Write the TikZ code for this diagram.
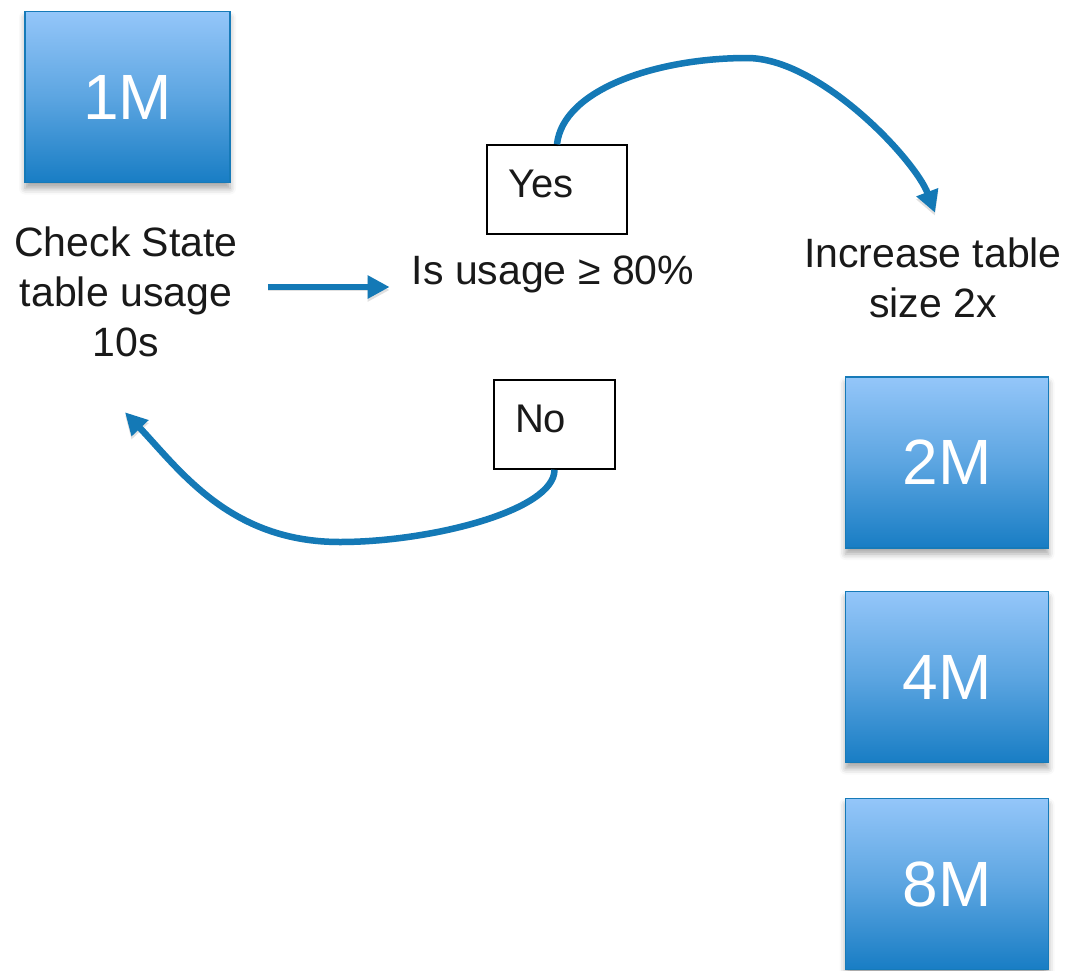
\documentclass[tikz,border=0pt]{standalone}
\usepackage{fontspec}
\setmainfont{Liberation Sans}
\usetikzlibrary{arrows.meta,shadows.blur,calc}
\definecolor{flowblue}{RGB}{20,121,182}
\definecolor{boxtop}{RGB}{148,198,249}
\definecolor{boxbot}{RGB}{24,125,196}
\definecolor{boxedge}{RGB}{22,122,184}
\definecolor{txt}{RGB}{25,25,25}
\begin{document}
\begin{tikzpicture}[x=1pt,y=-1pt,
  sizebox/.style={rectangle, draw=boxedge, line width=1.5pt, top color=boxtop, bottom color=boxbot, middle color=boxtop!55!boxbot, text=white, minimum width=203pt, minimum height=171pt, inner sep=0pt, font=\fontsize{64}{64}\selectfont, blur shadow={shadow xshift=0pt, shadow yshift=-6pt, shadow blur radius=6pt, shadow opacity=35}},
  lbl/.style={inner sep=0pt, text=txt, align=center, font=\fontsize{41}{50}\selectfont},
  choice/.style={rectangle, draw=black, line width=1.5pt, inner xsep=21pt, inner ysep=0pt, text height=28pt, text depth=12pt, align=left, minimum height=89pt, font=\fontsize{40}{40}\selectfont, text=txt},
  flow/.style={draw=flowblue, line width=6.5pt, -{Triangle[length=22pt,width=22pt]},
    preaction={draw=black, opacity=0.12, transform canvas={yshift=-3pt}}}]
\useasboundingbox (0,0) rectangle (1069,970);
\node[sizebox, minimum width=205pt] (m1) at (127.5,97) {1M};
\node[sizebox] (m2) at (947,462.5) {2M};
\node[sizebox] (m4) at (947,677) {4M};
\node[sizebox] (m8) at (947,884) {8M};
\node[lbl] (check) at (126,292) {Check State\\table usage\\10s};
\node[lbl, anchor=base] (usage) at (553,284) {Is usage ≥ 80\%};
\node[lbl] (incr) at (933,278) {Increase table\\size 2x};
\node[choice, text width=98pt] (yes) at (557,189.5) {Yes};
\node[choice, text width=79pt] (no) at (554.5,424.5) {No};
\draw[flow] ($(check.east |- usage.base)+(30,3)$) -- ($(usage.base west)+(-22,3)$);
\draw[flow] (yes.north) .. controls +(6,-55) and +(-90,0) .. (747,58)
  .. controls +(73,0) and +(-20,-53) .. ($(incr.north)+(2,-25)$);
\draw[flow] (no.south) .. controls +(0,41) and +(90,0) .. (340,542)
  .. controls +(-110,0) and +(55,58) .. ($(check.south)+(-1,55)$);
\end{tikzpicture}
\end{document}
